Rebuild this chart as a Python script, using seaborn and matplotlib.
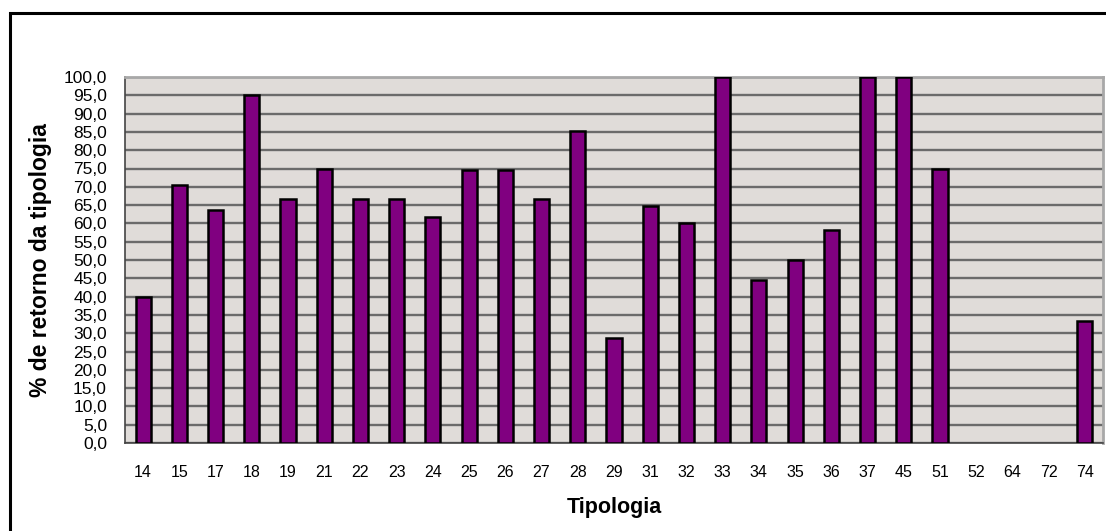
import numpy as np
import pandas as pd
import matplotlib
matplotlib.use("Agg")
import matplotlib.pyplot as plt
from matplotlib.patches import Rectangle
from matplotlib.ticker import MultipleLocator, FuncFormatter, FixedLocator
import seaborn as sns

# values
tipologia = ["14", "15", "17", "18", "19", "21", "22", "23", "24", "25", "26", "27", "28",
             "29", "31", "32", "33", "34", "35", "36", "37", "45", "51", "52", "64", "72", "74"]
retorno = [40.0, 70.6, 63.6, 95.2, 66.7, 75.0, 66.7, 66.7, 61.8, 74.5, 74.5, 66.7, 85.3,
           28.6, 64.7, 60.0, 100.0, 44.4, 50.0, 58.3, 100.0, 100.0, 75.0, 0.0, 0.0, 0.0, 33.3]

df = pd.DataFrame({"Tipologia": tipologia, "retorno": retorno})

sns.set_style("white")
plt.rcParams["font.family"] = ["Liberation Sans", "DejaVu Sans"]
plt.rcParams["text.color"] = "black"
plt.rcParams["axes.labelcolor"] = "black"
plt.rcParams["xtick.color"] = "black"
plt.rcParams["ytick.color"] = "black"

fig = plt.figure(figsize=(11.06, 5.31), dpi=100)
ax = fig.add_axes([125 / 1106, 88 / 531, 978 / 1106, 366 / 531])
ax.set_facecolor("#e0dcd9")

# outer frame of the chart
fig.patches.append(Rectangle((10 / 1106, -0.1), 1.2, (531 - 13) / 531 + 0.1,
                             transform=fig.transFigure, fill=False,
                             edgecolor="black", linewidth=2.2, zorder=10))

sns.barplot(data=df, x="Tipologia", y="retorno", order=tipologia, color="#800080",
            saturation=1, width=0.42, edgecolor="black", linewidth=1.8,
            errorbar=None, ax=ax, zorder=3)

# empty categories show no bar outline
for p in ax.patches:
    if p.get_height() == 0:
        p.set_visible(False)

ax.set_xlim(-0.5, len(tipologia) - 0.5)
ax.set_ylim(0, 100)
ax.yaxis.set_major_locator(MultipleLocator(5))
ax.yaxis.set_major_formatter(FuncFormatter(lambda v, p: f"{v:.1f}".replace(".", ",")))
ax.grid(axis="y", color="#6b6b6b", linewidth=1.7, zorder=0)
ax.set_axisbelow(True)

ax.tick_params(axis="y", which="major", direction="out", length=6, width=1,
               color="#333333", labelsize=12.5, pad=7)
ax.tick_params(axis="x", which="major", length=0, labelsize=11.5, pad=16)
ax.xaxis.set_minor_locator(FixedLocator(np.arange(-0.5, len(tipologia), 1.0)))
ax.tick_params(axis="x", which="minor", direction="out", length=5, width=1, color="#333333")

for side in ["top", "right"]:
    ax.spines[side].set_color("#a8a8a8")
    ax.spines[side].set_linewidth(2)
for side in ["left", "bottom"]:
    ax.spines[side].set_color("#444444")
    ax.spines[side].set_linewidth(1.2)

ax.set_xlabel("Tipologia", fontsize=15.5, fontweight="bold", labelpad=12)
ax.set_ylabel("% de retorno da tipologia", fontsize=16.5, fontweight="bold", labelpad=8)

fig.savefig("out.png", dpi=100)
